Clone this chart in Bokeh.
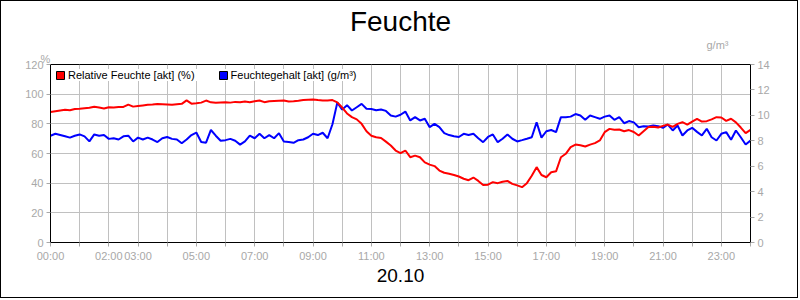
from bokeh.plotting import figure
from bokeh.models import (Range1d, LinearAxis, FixedTicker, Legend, LegendItem,
                          ColumnDataSource, Title)
from bokeh.embed import file_html
from bokeh.resources import INLINE

# ---------------- data (10-minute readings, 20.10) ----------------
minutes = list(range(0, 24 * 60 + 1, 10))

rel_feuchte = [  # Relative Feuchte [akt] (%)
    88.0, 88.5, 89.0, 89.5, 89.2, 90.0,
    90.2, 90.5, 90.8, 91.5, 91.0, 90.4,
    91.2, 91.0, 91.3, 91.4, 93.0, 91.6,
    92.0, 92.4, 92.8, 93.0, 93.4, 93.2,
    93.0, 92.8, 93.2, 93.5, 95.8, 93.6,
    93.8, 94.3, 95.7, 94.5, 94.2, 94.4,
    94.6, 94.3, 94.8, 94.5, 95.0, 94.6,
    95.2, 95.7, 94.6, 95.2, 95.4, 95.6,
    95.7, 95.0, 95.2, 95.5, 96.0, 96.3,
    96.4, 96.0, 95.7, 95.8, 96.0, 94.5,
    91.0, 87.0, 84.5, 83.0, 80.0, 75.0,
    72.0, 71.0, 70.5, 68.0, 65.4, 62.0,
    60.2, 62.0, 57.5, 58.6, 57.5, 54.0,
    52.5, 51.5, 48.5, 47.0, 46.3, 45.5,
    44.5, 43.0, 42.0, 43.8, 41.5, 38.8,
    39.0, 40.7, 40.0, 41.0, 41.5, 39.5,
    38.5, 37.3, 40.0, 45.0, 50.8, 45.5,
    44.0, 47.4, 48.0, 57.5, 59.8, 64.3,
    66.0, 65.5, 64.7, 66.0, 67.0, 68.8,
    74.4, 76.6, 76.0, 76.2, 75.0, 75.8,
    74.5, 72.1, 75.0, 77.8, 78.0, 77.5,
    78.6, 79.5, 78.0, 80.0, 81.1, 79.5,
    81.5, 83.4, 81.5, 81.8, 83.0, 84.5,
    84.3, 82.0, 83.4, 81.0, 77.5, 73.7,
    76.0,
]

feuchtegehalt = [  # Feuchtegehalt [akt] (g/m³)
    8.40, 8.55, 8.45, 8.35, 8.25, 8.40,
    8.50, 8.35, 7.95, 8.50, 8.40, 8.45,
    8.15, 8.20, 8.10, 8.35, 8.40, 7.95,
    8.25, 8.10, 8.25, 8.10, 7.90, 8.20,
    8.30, 8.15, 8.10, 7.80, 8.10, 8.45,
    8.65, 7.90, 7.85, 8.85, 8.40, 8.00,
    8.05, 8.15, 8.00, 7.70, 7.95, 8.40,
    8.20, 8.55, 8.20, 8.45, 8.20, 8.60,
    7.95, 7.90, 7.84, 8.05, 8.10, 8.28,
    8.55, 8.45, 8.63, 8.20, 9.30, 11.00,
    10.45, 10.80, 10.38, 10.64, 10.90, 10.52,
    10.50, 10.40, 10.46, 10.35, 9.99, 9.90,
    10.05, 10.30, 9.60, 9.86, 9.60, 9.73,
    9.07, 9.33, 9.07, 8.60, 8.45, 8.36,
    8.30, 8.55, 8.45, 8.55, 8.20, 7.89,
    8.30, 8.50, 7.89, 8.16, 8.50, 8.16,
    7.95, 8.05, 8.16, 8.28, 9.45, 8.25,
    8.75, 8.85, 8.68, 9.86, 9.86, 9.90,
    10.10, 9.99, 9.65, 9.99, 9.86, 9.73,
    9.90, 9.99, 9.65, 9.86, 9.38, 9.55,
    9.45, 9.07, 9.15, 9.12, 9.20, 9.15,
    9.02, 9.28, 8.81, 9.20, 8.42, 8.81,
    9.02, 8.70, 8.42, 8.94, 8.28, 8.02,
    8.55, 8.68, 8.08, 8.81, 8.28, 7.71,
    8.02,
]

hour_ticks = list(range(0, 25))
label_hours = [0, 2, 3, 5, 7, 9, 11, 13, 15, 17, 19, 21, 23]
label_texts = ["00:00", "02:00", "03:00", "05:00", "07:00", "09:00", "11:00",
               "13:00", "15:00", "17:00", "19:00", "21:00", "23:00"]
left_ticks = [0, 20, 40, 60, 80, 100, 120]
right_ticks = [0, 2, 4, 6, 8, 10, 12, 14]

title_text = "Feuchte"
date_text = "20.10"
series_names = ["Relative Feuchte [akt] (%)", "Feuchtegehalt [akt] (g/m³)"]
left_unit = "%"
right_unit = "g/m³"

# ---------------- styling ----------------
FONT = "Liberation Sans"
GREY = "#a8a8a8"
GRID = "#c0c0c0"
NAN = float("nan")

source = ColumnDataSource(data=dict(
    h=[m / 60 for m in minutes], rf=rel_feuchte, fg=feuchtegehalt))

p = figure(width=798, height=298, x_range=Range1d(0, 24), y_range=Range1d(0, 120),
           output_backend="svg", toolbar_location=None,
           min_border_left=49, min_border_right=49, min_border_top=63, min_border_bottom=57)
p.styles = {"border": "1px solid black"}
p.background_fill_color = "white"
p.border_fill_color = "white"
p.outline_line_color = "black"
p.outline_line_width = 1

p.extra_y_ranges = {"right": Range1d(0, 14)}

p.xaxis.ticker = FixedTicker(ticks=hour_ticks)
overrides = {h: "" for h in hour_ticks}
for h, t in zip(label_hours, label_texts):
    overrides[h] = t
p.xaxis.major_label_overrides = overrides
p.yaxis.ticker = FixedTicker(ticks=left_ticks)

ra = LinearAxis(y_range_name="right", ticker=FixedTicker(ticks=right_ticks))
p.add_layout(ra, "right")

for ax in [p.xaxis[0], p.yaxis[0], ra]:
    ax.axis_line_color = "black"
    ax.major_tick_line_color = GREY
    ax.major_tick_in = 0
    ax.major_tick_out = 4
    ax.minor_tick_line_color = None
    ax.major_label_text_color = GREY
    ax.major_label_text_font = FONT
    ax.major_label_text_font_size = "11px"
    ax.major_label_standoff = 3

p.xgrid.grid_line_color = GRID
p.ygrid.grid_line_color = GRID

p.line("h", "fg", source=source, color="#0000ff", line_width=2, y_range_name="right")
p.line("h", "rf", source=source, color="#ff0000", line_width=2)

# ---- series legend (inside the frame, top left) ----
sw_red = p.quad(left=[NAN], right=[NAN], top=[NAN], bottom=[NAN],
                fill_color="#ff0000", line_color="black")
sw_blue = p.quad(left=[NAN], right=[NAN], top=[NAN], bottom=[NAN],
                 fill_color="#0000ff", line_color="black")
legend = Legend(items=[LegendItem(label=series_names[0], renderers=[sw_red]),
                       LegendItem(label=series_names[1], renderers=[sw_blue])],
                orientation="horizontal", location="top_left",
                glyph_width=10, glyph_height=10, label_height=12, label_standoff=3,
                spacing=23, padding=2, margin=5, border_line_color=None,
                background_fill_color="white", background_fill_alpha=1.0,
                label_text_font=FONT, label_text_font_size="11px",
                label_text_color="black")
p.add_layout(legend)

# ---- titles outside the frame ----
p.add_layout(Title(text=left_unit, align="left", offset=-10, standoff=0, text_font=FONT,
                   text_font_size="11px", text_font_style="normal", text_color=GREY),
             "above")
p.add_layout(Title(text=right_unit, align="right", offset=22, standoff=0, text_font=FONT,
                   text_font_size="11px", text_font_style="normal", text_color=GREY),
             "above")

p.title.text = title_text
p.title.align = "center"
p.title.text_font = FONT
p.title.text_font_size = "28px"
p.title.text_font_style = "normal"
p.title.text_color = "black"
p.title.standoff = 0

p.add_layout(Title(text=date_text, align="center", standoff=4, text_font=FONT,
                   text_font_size="19px", text_font_style="normal", text_color="black"),
             "below")

open("out.html", "w").write(file_html(p, INLINE))
